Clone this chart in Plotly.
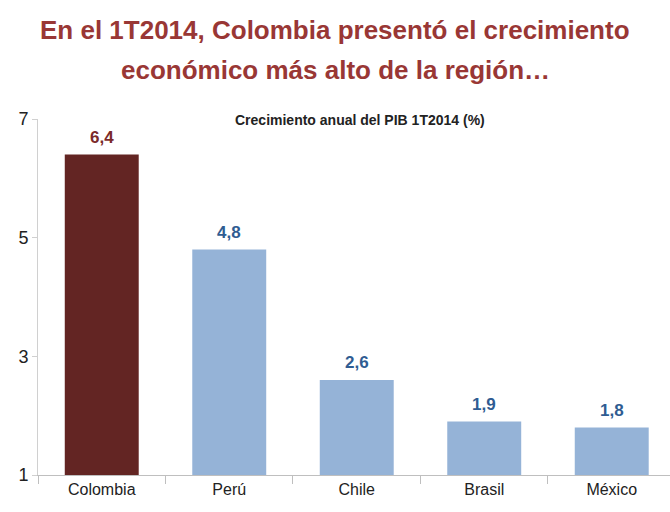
import plotly.graph_objects as go

countries = ["Colombia", "Perú", "Chile", "Brasil", "México"]
growth = [6.4, 4.8, 2.6, 1.9, 1.8]
bar_colors = ["#632523", "#95B3D7", "#95B3D7", "#95B3D7", "#95B3D7"]
label_colors = ["#7B2A2A", "#2F5C92", "#2F5C92", "#2F5C92", "#2F5C92"]
y_ticks = [1, 3, 5, 7]
title_lines = ["En el 1T2014, Colombia presentó el crecimiento",
               "económico más alto de la región…"]
subtitle = "Crecimiento anual del PIB 1T2014 (%)"

FONT = "Liberation Sans, Arial, sans-serif"

fig = go.Figure(go.Bar(
    x=countries, y=growth,
    marker=dict(color=bar_colors, line=dict(width=0)),
    width=0.58,
    hoverinfo="skip",
))

annotations = []
for ypos, line in zip([1.25, 1.1376], title_lines):
    annotations.append(dict(
        text="<b>%s</b>" % line, xref="paper", yref="paper",
        x=0.47, y=ypos, xanchor="center", yanchor="middle", showarrow=False,
        font=dict(family=FONT, size=26, color="#993735"),
    ))
annotations.append(dict(
    text="<b>%s</b>" % subtitle, xref="paper", yref="paper",
    x=0.509, y=0.997, xanchor="center", yanchor="middle", showarrow=False,
    font=dict(family=FONT, size=14, color="#222222"),
))
for c, v, col in zip(countries, growth, label_colors):
    annotations.append(dict(
        text="<b>%s</b>" % ("%.1f" % v).replace(".", ","), x=c, y=v,
        xref="x", yref="y", yanchor="bottom", showarrow=False, yshift=6,
        font=dict(family=FONT, size=17, color=col),
    ))

fig.update_layout(
    width=670, height=512,
    margin=dict(l=38, r=0, t=119, b=37),
    plot_bgcolor="white", paper_bgcolor="white",
    showlegend=False,
    font=dict(family=FONT, color="#222222"),
    annotations=annotations,
    xaxis=dict(
        range=[-0.5, 4.457], showline=True, linecolor="#BFBFBF", linewidth=1,
        ticks="outside", tickson="boundaries", ticklen=8, tickcolor="#BFBFBF",
        tickfont=dict(family=FONT, size=16, color="#222222"),
    ),
    yaxis=dict(
        range=[1, 7], tickvals=y_ticks, showgrid=False, zeroline=False,
        showline=True, linecolor="#D0D0D0", linewidth=1,
        ticks="outside", ticklen=5, tickcolor="#D0D0D0",
        tickfont=dict(family=FONT, size=18, color="#222222"),
    ),
)

fig.write_html("out.html")
